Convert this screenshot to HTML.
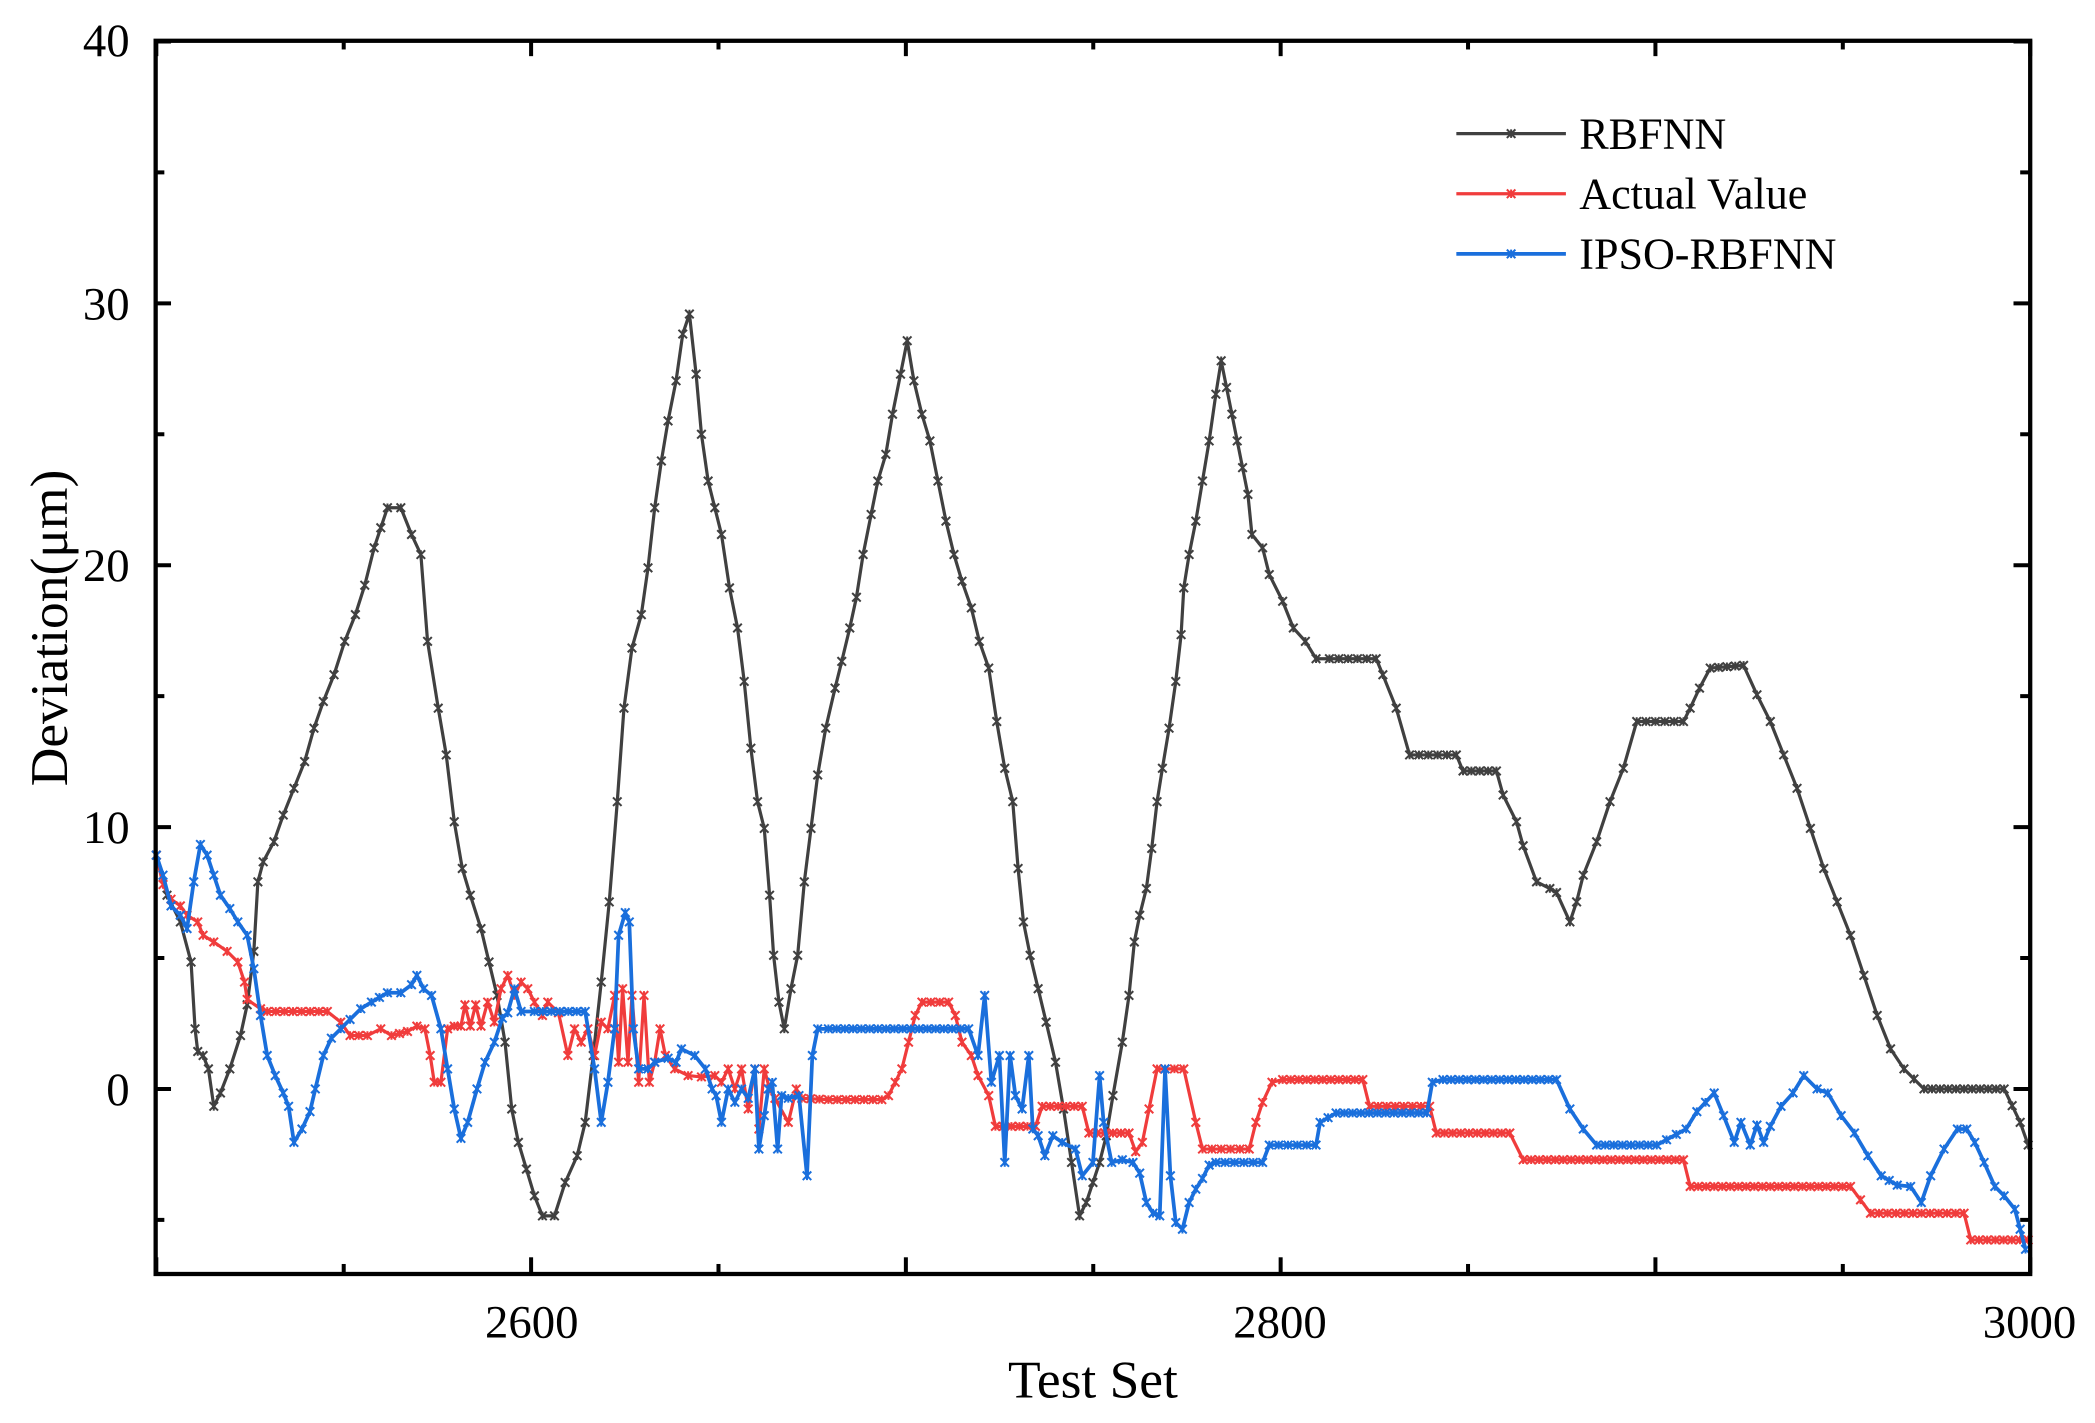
<!DOCTYPE html>
<html><head><meta charset="utf-8"><style>html,body{margin:0;padding:0;background:#fff}svg{display:block}</style></head>
<body>
<svg id="s" width="2095" height="1423" viewBox="0 0 1568 1065" xmlns="http://www.w3.org/2000/svg" font-family="'Liberation Serif',serif">
<rect width="1568" height="1065" fill="#fff"/>
<g id="ticks" stroke="#000" stroke-width="3"></g>
<g id="series"></g>
<rect x="116.5" y="30.5" width="1403" height="923" fill="none" stroke="#000" stroke-width="3.2"/>
<g font-size="35" fill="#000" text-anchor="end">
<text x="97" y="42">40</text><text x="97" y="239">30</text><text x="97" y="435">20</text><text x="97" y="631">10</text><text x="97" y="827">0</text>
</g>
<g font-size="35" fill="#000" text-anchor="middle">
<text x="398" y="1001">2600</text><text x="958" y="1001">2800</text><text x="1519" y="1001">3000</text>
</g>
<g font-size="40" fill="#000" text-anchor="middle">
<text x="818" y="1046">Test Set</text>
<text transform="translate(50,470) rotate(-90)">Deviation(μm)</text>
</g>
<g font-size="33" fill="#000">
<line x1="1090" y1="100" x2="1172" y2="100" stroke="#404040" stroke-width="2.4"/>
<line x1="1090" y1="145" x2="1172" y2="145" stroke="#f03c3c" stroke-width="2.4"/>
<line x1="1090" y1="190" x2="1172" y2="190" stroke="#1a6fdc" stroke-width="2.8"/>
<text x="1182" y="111">RBFNN</text><text x="1182" y="156">Actual Value</text><text x="1182" y="201">IPSO-RBFNN</text>
</g>
</svg>
<script>
var NS="http://www.w3.org/2000/svg";
var tk=document.getElementById("ticks");
function ln(x1,y1,x2,y2,g,c,w){var l=document.createElementNS(NS,"line");l.setAttribute("x1",x1);l.setAttribute("y1",y1);l.setAttribute("x2",x2);l.setAttribute("y2",y2);l.setAttribute("stroke",c||"#000");l.setAttribute("stroke-width",w||3);g.appendChild(l);}
for(var v=-5;v<=40;v+=5){var y=815-v*19.6;if(y>953||y<30)continue;var L=(v%10==0)?12:7;ln(116,y,116+L,y,tk);ln(1519,y,1519-L,y,tk);}
for(var t=2500;t<=3000;t+=50){var x=117+(t-2500)*2.805;var L=(t%100==0)?12:7;ln(x,953,x,953-L,tk);ln(x,30,x,30+L,tk);}
var B=[[117,640],[125,670],[135,690],[143,720],[146,770],[148,787],[152,790],[156,800],[160,828],[165,818],[172,800],[180,775],[185,752],[190,712],[193,660],[197,645],[205,630],[212,610],[220,590],[228,570],[235,545],[242,525],[250,505],[258,480],[266,460],[273,438],[280,410],[285,395],[290,380],[300,380],[308,400],[315,415],[320,480],[328,530],[334,565],[340,615],[346,650],[352,670],[360,695],[366,720],[372,745],[378,780],[383,830],[388,855],[394,875],[400,895],[406,910],[415,910],[423,885],[432,865],[438,840],[444,790],[450,735],[456,675],[462,600],[467,530],[473,485],[480,460],[485,425],[490,380],[495,345],[500,315],[506,285],[511,250],[516,235],[521,280],[525,325],[530,360],[535,380],[540,400],[546,440],[552,470],[557,510],[562,560],[567,600],[572,620],[576,670],[579,715],[583,750],[587,770],[592,740],[597,715],[602,660],[607,620],[612,580],[618,545],[625,515],[630,495],[636,470],[641,447],[646,415],[652,385],[657,360],[663,340],[668,310],[674,280],[679,255],[684,285],[690,310],[696,330],[702,360],[708,390],[714,415],[720,435],[727,455],[733,480],[740,500],[746,540],[752,575],[758,600],[762,650],[766,690],[771,715],[777,740],[783,765],[790,795],[796,830],[802,870],[808,910],[813,900],[818,885],[823,870],[828,850],[833,820],[840,780],[845,745],[849,705],[853,685],[858,665],[862,635],[866,600],[870,575],[875,545],[880,510],[884,475],[886,440],[890,415],[895,390],[900,360],[905,330],[910,295],[914,270],[918,290],[922,310],[926,330],[930,350],[934,370],[937,400],[945,410],[950,430],[960,450],[968,470],[977,480],[985,493],[995,493],[1030,493],[1035,505],[1045,530],[1055,565],[1090,565],[1095,577],[1120,577],[1125,595],[1135,615],[1140,633],[1150,660],[1160,665],[1165,668],[1175,690],[1180,675],[1185,655],[1195,630],[1205,600],[1215,575],[1225,540],[1260,540],[1265,530],[1272,515],[1280,500],[1305,498],[1315,520],[1325,540],[1335,565],[1345,590],[1355,620],[1365,650],[1375,675],[1385,700],[1395,730],[1405,760],[1415,785],[1425,800],[1440,815],[1500,815],[1512,840],[1518,857]];
var R=[[117,640],[122,662],[128,673],[135,678],[140,685],[148,690],[152,700],[160,705],[170,712],[178,720],[183,735],[185,748],[195,755],[200,757],[245,757],[255,765],[262,775],[275,775],[285,770],[293,775],[305,772],[312,768],[318,770],[322,790],[325,810],[330,810],[335,770],[340,768],[345,768],[348,752],[352,768],[356,752],[360,768],[365,750],[370,765],[375,740],[380,730],[385,745],[390,735],[395,740],[400,750],[406,760],[410,750],[418,758],[425,790],[430,770],[435,780],[440,770],[445,790],[450,765],[455,770],[460,745],[463,795],[466,740],[470,795],[473,745],[478,810],[482,745],[486,810],[490,795],[494,770],[498,790],[505,800],[515,805],[525,806],[535,805],[540,810],[545,800],[550,815],[555,800],[560,830],[565,800],[568,845],[572,800],[576,815],[580,822],[590,840],[596,815],[600,822],[620,823],[660,823],[665,820],[670,810],[675,800],[680,780],[685,760],[690,750],[710,750],[715,760],[720,780],[727,790],[732,805],[740,820],[745,843],[775,843],[780,828],[810,828],[815,848],[845,848],[850,862],[855,855],[860,830],[866,800],[872,800],[886,800],[895,840],[900,860],[935,860],[940,840],[945,825],[952,810],[960,808],[1020,808],[1025,828],[1070,828],[1075,848],[1130,848],[1140,868],[1260,868],[1265,888],[1385,888],[1400,908],[1470,908],[1475,928],[1518,928]];
var U=[[117,640],[122,655],[128,678],[135,685],[140,695],[145,660],[150,632],[155,640],[160,655],[165,670],[172,680],[178,690],[185,700],[190,725],[195,760],[200,790],[206,805],[212,818],[216,828],[220,855],[226,845],[232,832],[236,815],[242,790],[248,777],[255,770],[262,763],[270,755],[278,750],[290,743],[300,743],[308,737],[312,730],[317,740],[323,745],[330,770],[335,800],[340,830],[345,852],[350,840],[357,815],[363,795],[370,780],[376,762],[380,758],[385,740],[390,757],[400,757],[438,757],[445,800],[450,840],[455,810],[460,770],[463,700],[468,683],[471,690],[474,770],[478,800],[485,800],[490,795],[500,792],[506,795],[510,785],[520,790],[528,800],[533,815],[536,820],[540,840],[545,815],[550,825],[555,815],[560,822],[565,800],[568,860],[572,835],[575,815],[578,810],[582,860],[585,820],[590,822],[598,820],[604,880],[608,790],[612,770],[620,770],[725,770],[732,790],[737,745],[742,810],[748,790],[752,870],[756,790],[760,820],[765,830],[770,790],[773,845],[777,850],[782,865],[788,850],[795,855],[805,860],[810,880],[818,870],[823,805],[826,840],[832,870],[840,868],[848,870],[853,878],[858,900],[863,908],[868,910],[872,800],[876,880],[880,915],[885,920],[890,900],[895,890],[900,882],[905,872],[910,870],[945,870],[950,857],[985,857],[988,840],[1000,833],[1068,833],[1072,810],[1080,808],[1165,808],[1175,830],[1185,845],[1195,857],[1240,857],[1262,845],[1270,832],[1283,818],[1290,835],[1298,855],[1303,840],[1310,857],[1315,842],[1320,855],[1325,843],[1333,828],[1342,818],[1350,805],[1360,815],[1368,818],[1378,835],[1388,848],[1398,865],[1408,880],[1420,887],[1430,888],[1438,900],[1445,880],[1455,860],[1465,845],[1472,845],[1478,855],[1485,870],[1493,888],[1500,895],[1508,905],[1512,920],[1516,935]];
var sg=document.getElementById("series");
function draw(P,c,w){var pl=document.createElementNS(NS,"polyline");pl.setAttribute("points",P.map(function(p){return p.join(",")}).join(" "));pl.setAttribute("fill","none");pl.setAttribute("stroke",c);pl.setAttribute("stroke-width",w);pl.setAttribute("stroke-linejoin","round");sg.appendChild(pl);
var d="";function mk(x,y){var s=3.2;d+="M"+(x-s)+","+(y-s)+"L"+(x+s)+","+(y+s)+"M"+(x-s)+","+(y+s)+"L"+(x+s)+","+(y-s)+"M"+x+","+(y-s)+"L"+x+","+(y+s);}
for(var i=0;i<P.length;i++){mk(P[i][0],P[i][1]);if(i>0){var dx=P[i][0]-P[i-1][0];var n=Math.floor(dx/6);for(var k=1;k<n;k++){var f=k/n;mk(P[i-1][0]+dx*f,P[i-1][1]+(P[i][1]-P[i-1][1])*f);}}}
var pa=document.createElementNS(NS,"path");pa.setAttribute("d",d);pa.setAttribute("stroke",c);pa.setAttribute("stroke-width",1.5);pa.setAttribute("fill","none");sg.appendChild(pa);}
draw(B,"#404040",2.4);draw(R,"#f03c3c",2.4);draw(U,"#1a6fdc",2.8);
var lg=[[100,"#404040"],[145,"#f03c3c"],[190,"#1a6fdc"]];
lg.forEach(function(a){var pa=document.createElementNS(NS,"path");var x=1131,y=a[0],s=3.2;pa.setAttribute("d","M"+(x-s)+","+(y-s)+"L"+(x+s)+","+(y+s)+"M"+(x-s)+","+(y+s)+"L"+(x+s)+","+(y-s)+"M"+x+","+(y-s)+"L"+x+","+(y+s));pa.setAttribute("stroke",a[1]);pa.setAttribute("stroke-width",1.5);document.getElementById("s").appendChild(pa);});
</script>
</body></html>
